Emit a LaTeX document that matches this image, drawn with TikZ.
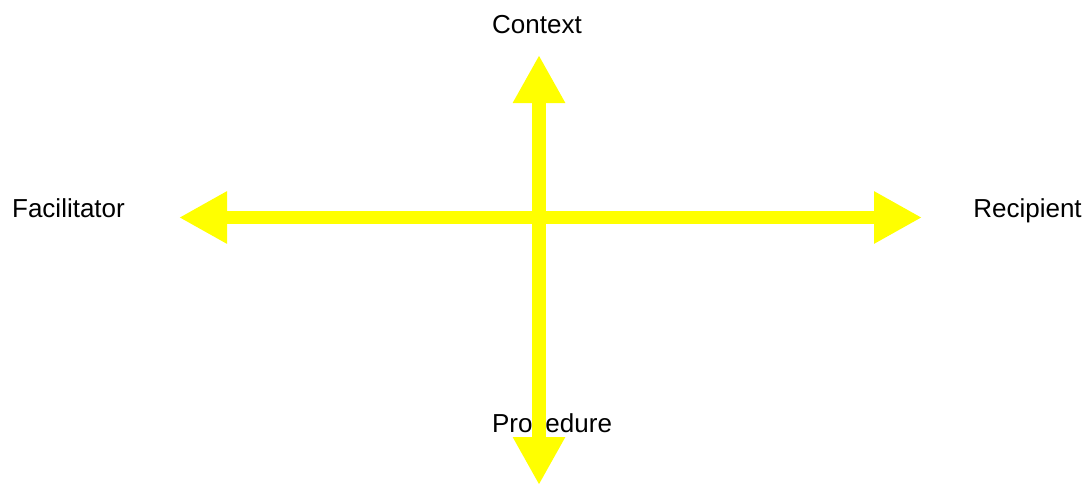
\documentclass[tikz,border=0pt]{standalone}
\usepackage{fontspec}
\setmainfont{Liberation Sans}
\usepackage{tikz}
\usetikzlibrary{arrows.meta, positioning}
\definecolor{axisyellow}{RGB}{255,255,0}

\begin{document}
\begin{tikzpicture}[
  x=0.5pt, y=-0.5pt,
  axis_label/.style={anchor=base, inner sep=0pt, font=\fontsize{13}{15.6}\selectfont},
  axis_arrow/.style={{Triangle[length=24pt, width=24.5pt]}-{Triangle[length=24pt, width=24.5pt]}, line width=6.8pt, draw=axisyellow}
]
\useasboundingbox (0,0) rectangle (1090,487);

% Labels
\node[axis_label] (context) at (537,33.3) {Context};
\node[axis_label] (facil) at (68.5,217.7) {Facilitator};
\node[axis_label] (recip) at (1027.5,217.7) {Recipient};
\node[axis_label] (proc) at (552,432.7) {Procedure};

% Arrow ends
\coordinate (top_end) at (539,55);
\coordinate (bottom_end) at (539,485);
\coordinate (left_end) at (179,217.5);
\coordinate (right_end) at (922,217.5);

% Arrows
\draw[axis_arrow] (left_end) -- (right_end);
\draw[axis_arrow] (top_end) -- (bottom_end);

\end{tikzpicture}
\end{document}
